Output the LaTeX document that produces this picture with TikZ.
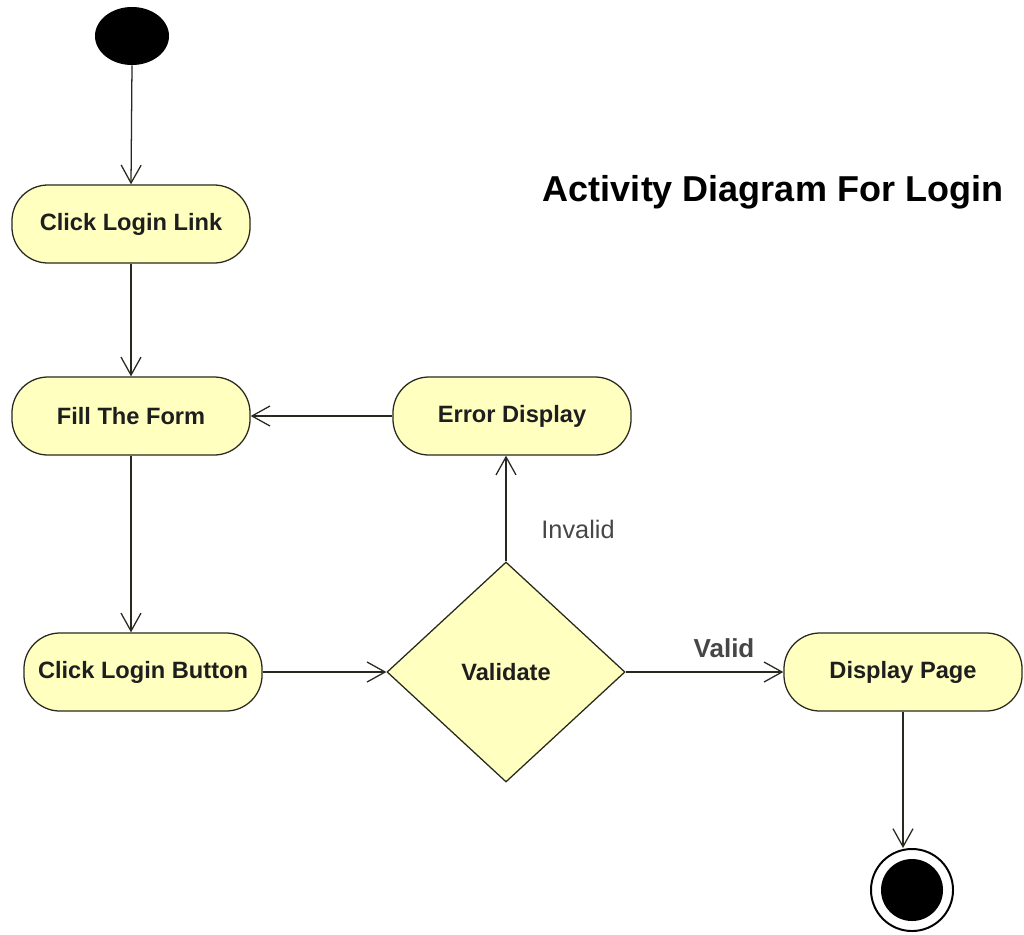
\documentclass[tikz,border=0pt]{standalone}
\usepackage{fontspec}
\setmainfont{Liberation Sans}
\usetikzlibrary{shapes.geometric,arrows.meta}
\definecolor{actfill}{RGB}{255,255,192}
\definecolor{actline}{RGB}{40,40,30}
\definecolor{txt}{RGB}{30,30,30}
\definecolor{guard}{RGB}{70,70,70}
\tikzset{
  activity/.style={draw=actline, fill=actfill, line width=0.9pt, rounded corners=0.9cm,
    minimum width=5.95cm, minimum height=1.95cm, inner sep=0pt,
    font=\fontsize{16.8}{19}\selectfont\bfseries, text=txt},
  decision/.style={draw=actline, fill=actfill, line width=0.9pt, diamond, aspect=1,
    minimum width=5.95cm, minimum height=5.5cm, inner sep=0pt,
    font=\fontsize{16.8}{19}\selectfont\bfseries, text=txt},
  flow/.style={draw=actline, line width=0.9pt, -{Straight Barb[length=0.45cm,width=0.5cm,line width=0.9pt]}},
  guardlabel/.style={font=\fontsize{18}{20}\selectfont, text=guard}
}
\begin{document}
\begin{tikzpicture}[x=0.025cm,y=-0.025cm]
\useasboundingbox (0,0) rectangle (1024,934);

% initial and final states
\node (start) [ellipse, fill=black, minimum width=1.85cm, minimum height=1.45cm, inner sep=0pt] at (132,36) {};
\node (final) [circle, draw=black, line width=1.4pt, fill=white, minimum size=2.05cm, inner sep=0pt] at (912,890) {};
\node (finalin) [circle, fill=black, minimum size=1.55cm, inner sep=0pt] at (final) {};

% actions
\node (link)   [activity] at (131,224) {Click Login Link};
\node (form)   [activity] at (131,416) {Fill The Form};
\node (error)  [activity] at (512,416) {Error Display};
\node (button) [activity] at (143,672) {Click Login Button};
\node (valid)  [decision] at (506,672) {Validate};
\node (page)   [activity] at (903,672) {Display Page};

% title
\node (title) [font=\fontsize{25.6}{28}\selectfont\bfseries, text=black, anchor=west] at (538,192) {Activity Diagram For Login};

% control flows
\draw[flow] (start.south) -- (link.north);
\draw[flow] (link.south) -- (form.north);
\draw[flow] (form.south) -- (form.south |- button.north);
\draw[flow] (button.east) -- (valid.west);
\draw[flow] (valid.north) -- (error.south -| valid.north);
\draw[flow] (error.west) -- (form.east);
\draw[flow] (valid.east) -- (page.west);
\draw[flow] (page.south) -- (page.south |- final.north);

% guards
\node (validlbl) [guardlabel, font=\fontsize{18.5}{20}\selectfont\bfseries] at (724,648) {Valid};
\node (invalidlbl) [guardlabel] at (578,529) {Invalid};
\end{tikzpicture}
\end{document}
